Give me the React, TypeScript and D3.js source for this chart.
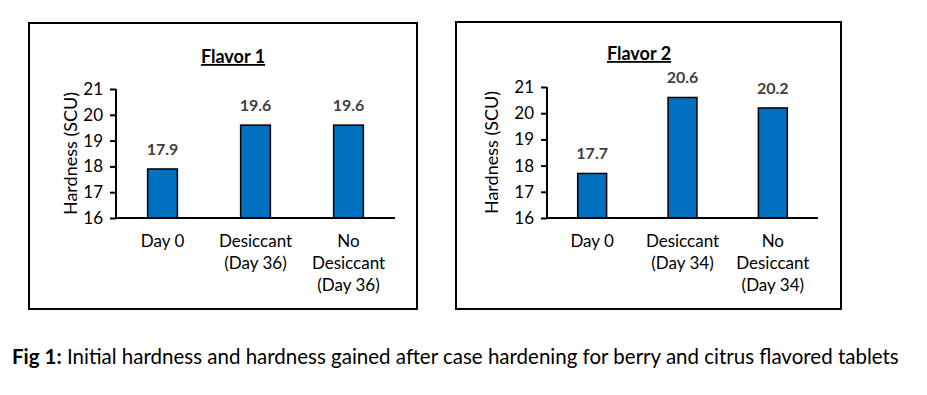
import { useEffect, useRef } from 'react';
import * as d3 from 'd3';

const categories1 = ['Day 0', 'Desiccant (Day 36)', 'No Desiccant (Day 36)'];
const labelLines1 = [['Day 0'], ['Desiccant', '(Day 36)'], ['No', 'Desiccant', '(Day 36)']];
const values1 = [17.9, 19.6, 19.6];

const categories2 = ['Day 0', 'Desiccant (Day 34)', 'No Desiccant (Day 34)'];
const labelLines2 = [['Day 0'], ['Desiccant', '(Day 34)'], ['No', 'Desiccant', '(Day 34)']];
const values2 = [17.7, 20.6, 20.2];

const yTicks = [16, 17, 18, 19, 20, 21];

const FONT = 'Lato, "Open Sans", sans-serif';
const BAR = '#0070c0';

interface PanelProps {
  title: string;
  categories: string[];
  labelLines: string[][];
  values: number[];
  box: { x: number; y: number; w: number; h: number };
  plot: { left: number; right: number; top: number; bottom: number };
  titleX: number;
  titleY: number;
  yLabelX: number;
}

const Panel = ({ title, categories, labelLines, values, box, plot, titleX, titleY, yLabelX }: PanelProps) => {
  const axisRef = useRef<SVGGElement>(null);

  const x = d3.scaleBand<string>()
    .domain(categories)
    .range([plot.left, plot.right])
    .paddingInner(0.68)
    .paddingOuter(0.34);
  const y = d3.scaleLinear().domain([16, 21]).range([plot.bottom, plot.top]);

  useEffect(() => {
    if (!axisRef.current) return;
    const g = d3.select(axisRef.current);
    g.selectAll('*').remove();
    const ax = g.append('g')
      .attr('transform', `translate(${plot.left},0)`)
      .call(d3.axisLeft(y).tickValues(yTicks).tickSize(6).tickPadding(7).tickFormat(d3.format('d')));
    ax.select('.domain').attr('stroke', '#000').attr('stroke-width', 2).attr('d', `M0,${plot.bottom}V${plot.top}`);
    ax.selectAll('.tick line').attr('stroke', '#000').attr('stroke-width', 2);
    ax.selectAll('.tick text')
      .attr('font-family', FONT)
      .attr('font-size', 17)
      .attr('fill', '#000');
  }, []);

  const midY = (plot.top + plot.bottom) / 2;

  return (
    <g>
      <rect x={box.x} y={box.y} width={box.w} height={box.h} fill="#fff" stroke="#000" strokeWidth={2} />
      <text
        x={titleX}
        y={titleY}
        textAnchor="middle"
        fontFamily={FONT}
        fontWeight="bold"
        fontSize={18}
        textDecoration="underline"
      >
        {title}
      </text>
      <text
        transform={`translate(${yLabelX},${midY}) rotate(-90)`}
        textAnchor="middle"
        fontFamily={FONT}
        fontSize={18}
      >
        Hardness (SCU)
      </text>
      {categories.map((c, i) => (
        <g key={c}>
          <rect
            x={x(c)}
            y={y(values[i])}
            width={x.bandwidth()}
            height={plot.bottom - y(values[i])}
            fill={BAR}
            stroke="#000"
            strokeWidth={1.5}
          />
          <text
            x={(x(c) ?? 0) + x.bandwidth() / 2}
            y={y(values[i]) - 14}
            textAnchor="middle"
            fontFamily={FONT}
            fontWeight="bold"
            fontSize={16}
            fill="#404040"
          >
            {values[i].toFixed(1)}
          </text>
          {labelLines[i].map((line, j) => (
            <text
              key={j}
              x={(x(c) ?? 0) + x.bandwidth() / 2}
              y={plot.bottom + 29 + j * 22}
              textAnchor="middle"
              fontFamily={FONT}
              fontSize={17}
            >
              {line}
            </text>
          ))}
        </g>
      ))}
      <line x1={plot.left} x2={plot.right} y1={plot.bottom} y2={plot.bottom} stroke="#000" strokeWidth={2} />
      <g ref={axisRef} />
    </g>
  );
};

export default function App() {
  return (
    <svg
      width={927}
      height={395}
      style={{ position: 'absolute', left: 0, top: 0, background: '#fff' }}
    >
      <Panel
        title="Flavor 1"
        categories={categories1}
        labelLines={labelLines1}
        values={values1}
        box={{ x: 29, y: 23, w: 388, h: 286 }}
        plot={{ left: 116, right: 395, top: 89, bottom: 218 }}
        titleX={233}
        titleY={63}
        yLabelX={77}
      />
      <Panel
        title="Flavor 2"
        categories={categories2}
        labelLines={labelLines2}
        values={values2}
        box={{ x: 456, y: 22, w: 385, h: 287 }}
        plot={{ left: 547, right: 818, top: 87, bottom: 218 }}
        titleX={639}
        titleY={60}
        yLabelX={498}
      />
      <text x={12} y={364} fontFamily={FONT} fontSize={20.5}>
        <tspan fontWeight="bold">Fig 1:</tspan>
        <tspan> Initial hardness and hardness gained after case hardening for berry and citrus flavored tablets</tspan>
      </text>
    </svg>
  );
}
